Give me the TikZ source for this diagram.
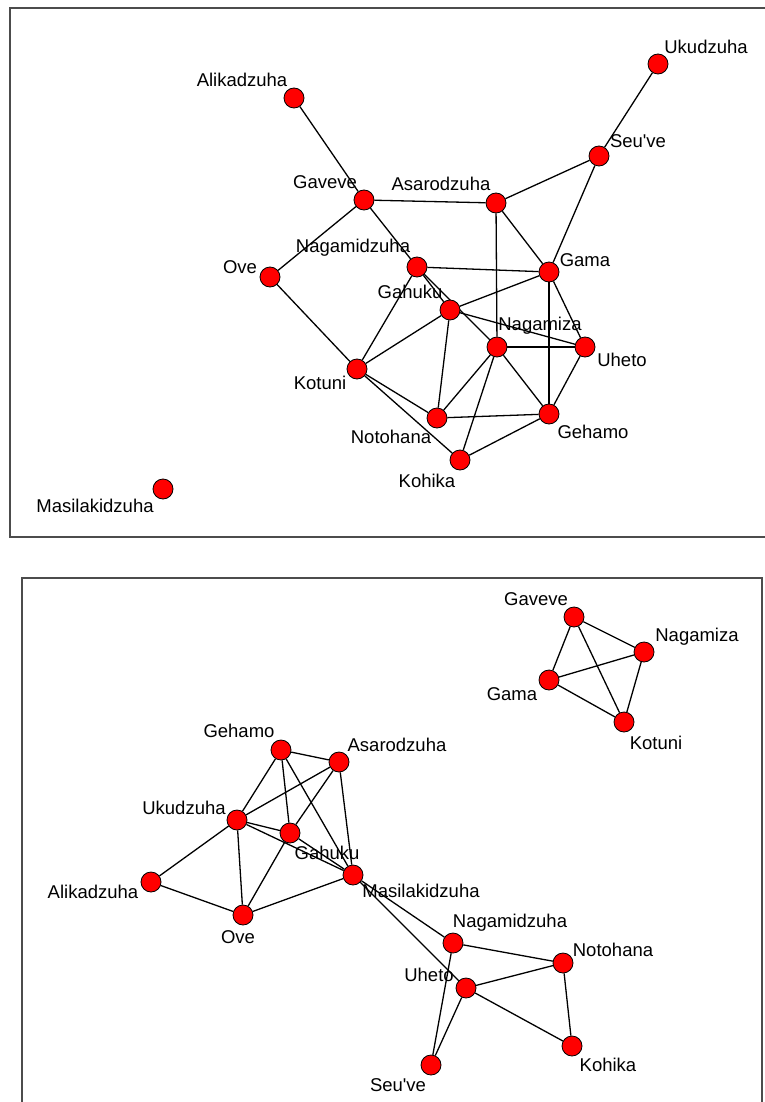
\documentclass[tikz,border=0pt]{standalone}
\usepackage{fontspec}
\setmainfont{Liberation Sans}
\usetikzlibrary{backgrounds}

\begin{document}
\begin{tikzpicture}[x=1pt,y=-1pt,
  vtx/.style={circle,draw=black,line width=0.8pt,fill=red,minimum size=20pt,inner sep=0pt},
  lbl/.style={inner sep=0pt,font=\fontsize{18.5}{20}\selectfont},
  edge/.style={line width=1.3pt},
  frame/.style={draw=black!70,line width=1.3pt}
]
\useasboundingbox (0,0) rectangle (764,1102);
\draw[frame] (10,8) rectangle (790,537);
\draw[frame] (22,578) rectangle (762,1130);
% first network
\node[vtx] (ali) at (294,98) {};
\node[vtx] (uku) at (658,64) {};
\node[vtx] (seu) at (599,156) {};
\node[vtx] (gav) at (364,200) {};
\node[vtx] (asa) at (496,203) {};
\node[vtx] (ove) at (270,277) {};
\node[vtx] (ngd) at (417,267) {};
\node[vtx] (gam) at (549,272) {};
\node[vtx] (gah) at (450,310) {};
\node[vtx] (ngz) at (497,347) {};
\node[vtx] (uhe) at (585,347) {};
\node[vtx] (kot) at (357,369) {};
\node[vtx] (not) at (437,418) {};
\node[vtx] (geh) at (549,414) {};
\node[vtx] (koh) at (460,460) {};
\node[vtx] (mas) at (163,489) {};
\node[lbl] (ali-t) at (242,80) {Alikadzuha};
\node[lbl] (uku-t) at (706,47) {Ukudzuha};
\node[lbl] (seu-t) at (638,141) {Seu\textquotesingle ve};
\node[lbl] (gav-t) at (325,182) {Gaveve};
\node[lbl] (asa-t) at (441,184) {Asarodzuha};
\node[lbl] (ove-t) at (240,267) {Ove};
\node[lbl] (ngd-t) at (353,248) {Nagamidzuha};
\node[lbl] (gam-t) at (585,260) {Gama};
\node[lbl] (gah-t) at (410,292) {Gahuku};
\node[lbl] (ngz-t) at (540,326) {Nagamiza};
\node[lbl] (uhe-t) at (622,360) {Uheto};
\node[lbl] (kot-t) at (320,383) {Kotuni};
\node[lbl] (not-t) at (391,437) {Notohana};
\node[lbl] (geh-t) at (593,432) {Gehamo};
\node[lbl] (koh-t) at (427,481) {Kohika};
\node[lbl] (mas-t) at (95,506) {Masilakidzuha};
\begin{scope}[on background layer]
\draw[edge] (ali)--(gav);
\draw[edge] (uku)--(seu);
\draw[edge] (seu)--(asa);
\draw[edge] (seu)--(gam);
\draw[edge] (gav)--(asa);
\draw[edge] (gav)--(ove);
\draw[edge] (gav)--(ngd);
\draw[edge] (ngd)--(gam);
\draw[edge] (ngd)--(gah);
\draw[edge] (ngd)--(ngz);
\draw[edge] (ngd)--(kot);
\draw[edge] (asa)--(gam);
\draw[edge] (asa)--(ngz);
\draw[edge] (gam)--(gah);
\draw[edge] (gam)--(uhe);
\draw[edge] (gam)--(geh);
\draw[edge] (gah)--(uhe);
\draw[edge] (gah)--(kot);
\draw[edge] (gah)--(not);
\draw[edge] (ngz)--(uhe);
\draw[edge] (ngz)--(not);
\draw[edge] (ngz)--(koh);
\draw[edge] (ngz)--(geh);
\draw[edge] (uhe)--(geh);
\draw[edge] (ove)--(kot);
\draw[edge] (kot)--(not);
\draw[edge] (kot)--(koh);
\draw[edge] (not)--(geh);
\draw[edge] (koh)--(geh);
\end{scope}
% second network
\node[vtx] (gav2) at (574,617) {};
\node[vtx] (ngz2) at (644,652) {};
\node[vtx] (gam2) at (549,680) {};
\node[vtx] (kot2) at (624,722) {};
\node[vtx] (geh2) at (281,750) {};
\node[vtx] (asa2) at (339,762) {};
\node[vtx] (uku2) at (237,820) {};
\node[vtx] (gah2) at (290,833) {};
\node[vtx] (mas2) at (353,875) {};
\node[vtx] (ali2) at (151,882) {};
\node[vtx] (ove2) at (243,915) {};
\node[vtx] (ngd2) at (453,943) {};
\node[vtx] (not2) at (563,963) {};
\node[vtx] (uhe2) at (466,988) {};
\node[vtx] (koh2) at (572,1046) {};
\node[vtx] (seu2) at (431,1065) {};
\node[lbl] (gav2-t) at (536,599) {Gaveve};
\node[lbl] (ngz2-t) at (697,637) {Nagamiza};
\node[lbl] (gam2-t) at (512,694) {Gama};
\node[lbl] (kot2-t) at (656,743) {Kotuni};
\node[lbl] (geh2-t) at (239,731) {Gehamo};
\node[lbl] (asa2-t) at (397,745) {Asarodzuha};
\node[lbl] (uku2-t) at (184,808) {Ukudzuha};
\node[lbl] (gah2-t) at (327,853) {Gahuku};
\node[lbl] (mas2-t) at (421,891) {Masilakidzuha};
\node[lbl] (ali2-t) at (93,892) {Alikadzuha};
\node[lbl] (ove2-t) at (238,937) {Ove};
\node[lbl] (ngd2-t) at (510,923) {Nagamidzuha};
\node[lbl] (not2-t) at (613,950) {Notohana};
\node[lbl] (uhe2-t) at (429,975) {Uheto};
\node[lbl] (koh2-t) at (608,1065) {Kohika};
\node[lbl] (seu2-t) at (398,1085) {Seu\textquotesingle ve};
\begin{scope}[on background layer]
\draw[edge] (gav2)--(ngz2);
\draw[edge] (gav2)--(gam2);
\draw[edge] (gav2)--(kot2);
\draw[edge] (gam2)--(ngz2);
\draw[edge] (gam2)--(kot2);
\draw[edge] (ngz2)--(kot2);
\draw[edge] (geh2)--(asa2);
\draw[edge] (geh2)--(uku2);
\draw[edge] (geh2)--(gah2);
\draw[edge] (geh2)--(mas2);
\draw[edge] (asa2)--(uku2);
\draw[edge] (asa2)--(gah2);
\draw[edge] (asa2)--(mas2);
\draw[edge] (uku2)--(gah2);
\draw[edge] (uku2)--(mas2);
\draw[edge] (uku2)--(ali2);
\draw[edge] (uku2)--(ove2);
\draw[edge] (gah2)--(ove2);
\draw[edge] (gah2)--(mas2);
\draw[edge] (mas2)--(ove2);
\draw[edge] (ali2)--(ove2);
\draw[edge] (mas2)--(ngd2);
\draw[edge] (mas2)--(uhe2);
\draw[edge] (ngd2)--(not2);
\draw[edge] (ngd2)--(seu2);
\draw[edge] (uhe2)--(not2);
\draw[edge] (uhe2)--(koh2);
\draw[edge] (uhe2)--(seu2);
\draw[edge] (not2)--(koh2);
\end{scope}
\end{tikzpicture}
\end{document}
